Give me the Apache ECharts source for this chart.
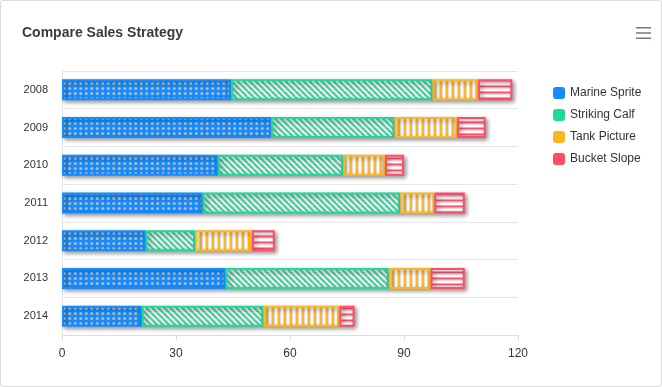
<!DOCTYPE html>
<html><head><meta charset="utf-8">
<script src="https://cdn.jsdelivr.net/npm/echarts@6/dist/echarts.min.js"></script>
<style>
html,body{margin:0;padding:0;background:#fff;}
#wrap{position:absolute;left:0;top:0;width:660px;height:385px;border:1px solid #dcdcdc;border-radius:3px;background:#fff;}
#c{width:660px;height:385px;}
</style></head>
<body><div id="wrap"><div id="c"></div></div>
<script>
const categories = ['2008','2009','2010','2011','2012','2013','2014'];
const seriesNames = ['Marine Sprite','Striking Calf','Tank Picture','Bucket Slope'];
const marineSprite = [44.5, 55, 41, 37, 22, 43, 21];
const strikingCalf = [53, 32.5, 33, 52, 13, 43, 32];
const tankPicture  = [12, 16.5, 11, 9, 15, 11, 20];
const bucketSlope  = [9, 7.5, 5, 8, 6, 9, 4];
const seriesValues = [marineSprite, strikingCalf, tankPicture, bucketSlope];
const xTicks = [0, 30, 60, 90, 120];
const colors = ['#148cff', '#1fd99a', '#ffb61e', '#ff4d69'];

function mk(w, h, draw){ const c = document.createElement('canvas'); c.width = w; c.height = h; draw(c.getContext('2d'), w, h); return c; }
const patterns = [
  mk(11, 5, (g, w, h) => { g.fillStyle = colors[0]; g.fillRect(0,0,w,h); g.fillStyle = 'rgba(185,185,185,1)';
      [2.75, 8.25].forEach(x => { g.beginPath(); g.arc(x, 2.5, 1.5, 0, Math.PI*2); g.fill(); }); }),
  mk(6, 6, (g, w, h) => { g.fillStyle = '#f4f4f4'; g.fillRect(0,0,w,h);
      g.lineWidth = 1.6; g.strokeStyle = 'rgba(190,190,190,1)';
      for (let k=-12;k<=12;k+=6){ g.beginPath(); g.moveTo(k+1.4, 0); g.lineTo(k+1.4+6, 6); g.stroke(); }
      g.strokeStyle = colors[1];
      for (let k=-12;k<=12;k+=6){ g.beginPath(); g.moveTo(k, 0); g.lineTo(k+6, 6); g.stroke(); } }),
  mk(6, 6, (g, w, h) => { g.fillStyle = '#fafafa'; g.fillRect(0,0,w,h);
      g.fillStyle = 'rgba(190,190,190,1)'; g.fillRect(2, 0, 1.5, h);
      g.fillStyle = colors[2]; g.fillRect(0.5, 0, 1.5, h); }),
  mk(6, 6, (g, w, h) => { g.fillStyle = '#fafafa'; g.fillRect(0,0,w,h);
      g.fillStyle = 'rgba(190,190,190,1)'; g.fillRect(0, 2, w, 1.5);
      g.fillStyle = colors[3]; g.fillRect(0, 0.5, w, 1.5); })
];

const chart = echarts.init(document.getElementById('c'));
chart.setOption({
  animation: false,
  title: { text: 'Compare Sales Strategy', left: 16, top: 20,
    textStyle: { fontFamily: 'Liberation Sans, Arial', fontSize: 14, fontWeight: 'bold', color: '#3a3a3a' } },
  toolbox: { right: 10, top: 26, padding: 0, itemSize: 15,
    feature: { myMenu: { show: true, title: 'menu', icon: 'path://M0,2H20V4H0ZM0,9H20V11H0ZM0,16H20V18H0Z', onclick: function(){} } },
    iconStyle: { color: '#6e7b8b', borderColor: '#6e7b8b', borderWidth: 0 } },
  legend: { orient: 'vertical', left: 547, top: 81, itemWidth: 12, itemHeight: 12, itemGap: 10, icon: 'roundRect',
    textStyle: { fontFamily: 'Liberation Sans, Arial', fontSize: 12, color: '#333' },
    data: seriesNames.map((n, i) => ({ name: n, itemStyle: { color: colors[i], borderWidth: 0, shadowBlur: 0, shadowOffsetX: 0, shadowOffsetY: 0 } })) },
  grid: { left: 61, right: 143, top: 70, bottom: 51 },
  xAxis: { type: 'value', min: 0, max: 120, interval: 30,
    axisLine: { show: true, lineStyle: { color: '#dcdcdc' } },
    axisTick: { show: true, length: 5, lineStyle: { color: '#dcdcdc' } },
    splitLine: { show: false },
    axisLabel: { color: '#333', fontSize: 12, fontFamily: 'Liberation Sans, Arial', margin: 13,
      formatter: v => xTicks.indexOf(v) >= 0 ? String(v) : '' } },
  yAxis: { type: 'category', data: categories, inverse: true,
    axisLine: { show: true, lineStyle: { color: '#e6e6e6' } },
    axisTick: { show: false },
    splitLine: { show: true, lineStyle: { color: '#e6e6e6' } },
    axisLabel: { color: '#333', fontSize: 11, fontFamily: 'Liberation Sans, Arial', margin: 14 } },
  series: seriesNames.map((n, i) => ({
    name: n, type: 'bar', stack: 'total', barWidth: 21, data: seriesValues[i],
    itemStyle: { color: { image: patterns[i], repeat: 'repeat' }, borderColor: colors[i], borderWidth: 2,
      shadowColor: 'rgba(0,0,0,0.4)', shadowBlur: 4, shadowOffsetX: 2, shadowOffsetY: 2 }
  }))
});
</script></body></html>
